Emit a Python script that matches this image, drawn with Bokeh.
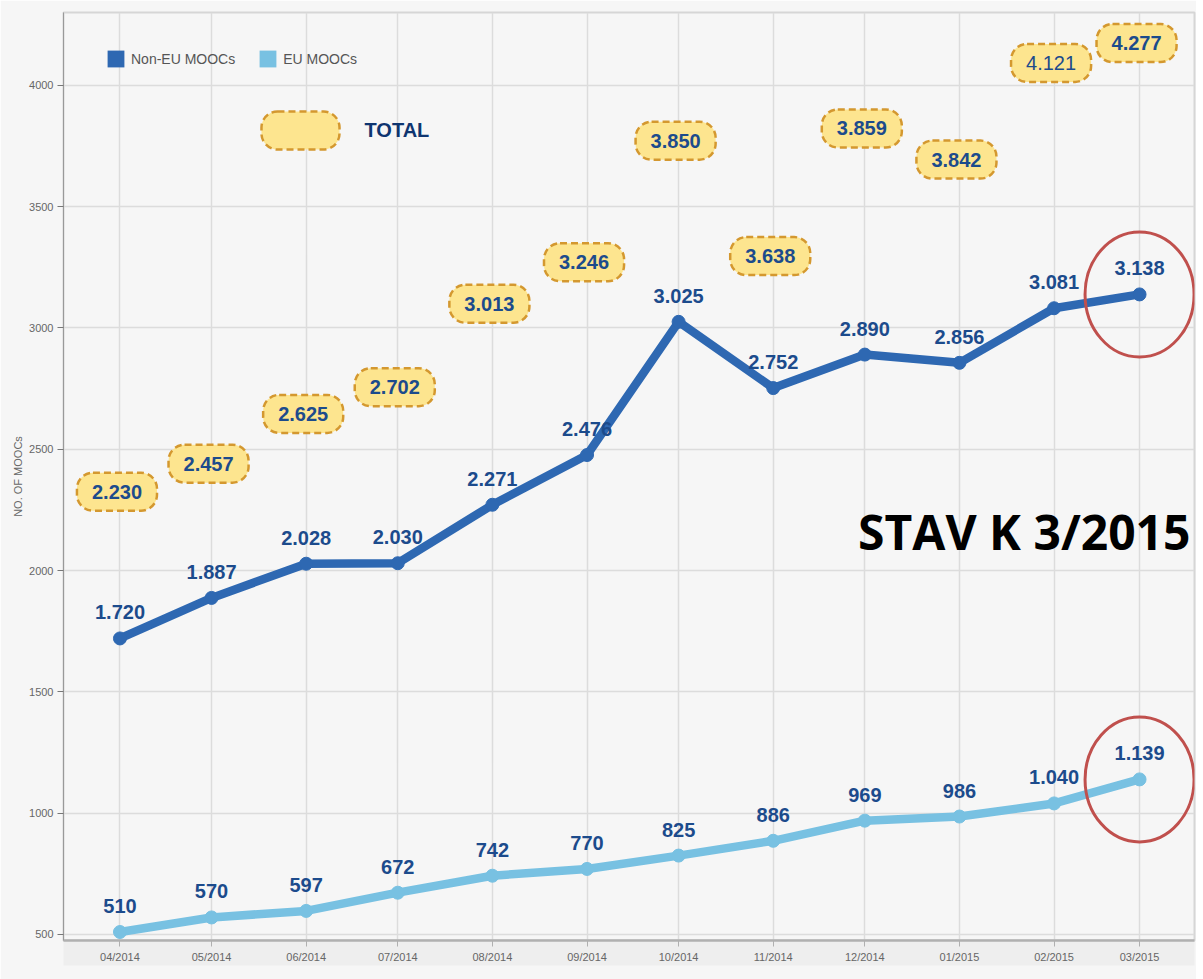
import pandas as pd
from bokeh.plotting import figure
from bokeh.models import (Range1d, FixedTicker, DatetimeTickFormatter, Legend, LegendItem,
                          Label, ColumnDataSource)
from bokeh.core.properties import value
from bokeh.embed import file_html
from bokeh.resources import INLINE

# ---------------- data ----------------
months = ["2014-04-01", "2014-05-01", "2014-06-01", "2014-07-01", "2014-08-01", "2014-09-01",
          "2014-10-01", "2014-11-01", "2014-12-01", "2015-01-01", "2015-02-01", "2015-03-01"]
non_eu = [1720, 1887, 2028, 2030, 2271, 2476, 3025, 2752, 2890, 2856, 3081, 3138]
eu = [510, 570, 597, 672, 742, 770, 825, 886, 969, 986, 1040, 1139]
totals = [2230, 2457, 2625, 2702, 3013, 3246, 3850, 3638, 3859, 3842, 4121, 4277]
y_ticks = [500, 1000, 1500, 2000, 2500, 3000, 3500, 4000]
series_names = ["Non-EU MOOCs", "EU MOOCs"]

# ---------------- styling ----------------
total_nudge_px = [-23, 4, -5, -13, -21, -6, 19, 83, 9, 36, 7, 25]   # hand placement of the TOTAL call-outs
total_weight = ["bold"] * 10 + ["normal", "bold"]

C_NONEU = "#2e68b2"
C_EU = "#78c1e2"
C_LABEL = "#1c4b8c"
C_BOX_FILL = "#fde58f"
C_BOX_LINE = "#d4982f"
C_RED = "#c0504d"
FONT = "Liberation Sans"

dates = pd.to_datetime(months)


def fmt(v):
    return f"{v:,}".replace(",", ".")


p = figure(width=1196, height=979, x_axis_type="datetime",
           x_range=Range1d(dates[0] - pd.Timedelta(days=18.5), dates[-1] + pd.Timedelta(days=18)),
           y_range=Range1d(475, 4300),
           output_backend="svg", toolbar_location=None,
           min_border_left=63, min_border_right=2, min_border_top=12, min_border_bottom=39,
           background_fill_color="#f6f6f6", border_fill_color="#f6f6f6")
p.outline_line_color = "#d6d6d6"
p.outline_line_width = 2

# grids
p.xgrid.grid_line_color = "#dcdcdc"
p.xgrid.grid_line_width = 1.5
p.ygrid.grid_line_color = "#dcdcdc"
p.ygrid.grid_line_width = 1.5

# axes
p.xaxis.ticker = FixedTicker(ticks=[d.timestamp() * 1000 for d in dates])
p.xaxis.formatter = DatetimeTickFormatter(days="%m/%Y", months="%m/%Y", years="%m/%Y",
                                          hours="%m/%Y", minutes="%m/%Y", seconds="%m/%Y",
                                          milliseconds="%m/%Y", microseconds="%m/%Y",
                                          hourmin="%m/%Y", minsec="%m/%Y")
p.yaxis.ticker = FixedTicker(ticks=y_ticks)
for ax in (p.xaxis[0], p.yaxis[0]):
    ax.major_label_text_font = FONT
    ax.major_label_text_color = "#666666"
    ax.minor_tick_line_color = None
    ax.major_tick_in = 0
    ax.major_tick_out = 6
    ax.major_tick_line_color = "#777777"
p.xaxis.major_label_text_font_size = "11px"
p.xaxis.axis_line_color = "#b0b0b0"
p.xaxis.axis_line_width = 2.5
p.xaxis.major_tick_line_color = "#b0b0b0"
p.xaxis.major_label_standoff = 4
p.xaxis.background_fill_color = "#eeeeee"
p.yaxis.major_label_text_font_size = "11px"
p.yaxis.axis_line_color = "#999999"
p.yaxis.major_label_standoff = 4
p.yaxis.axis_label = "NO. OF MOOCs"
p.yaxis.axis_label_text_font = FONT
p.yaxis.axis_label_text_font_size = "11px"
p.yaxis.axis_label_text_font_style = "normal"
p.yaxis.axis_label_text_color = "#666666"
p.yaxis.axis_label_standoff = 2

# sources
src_n = ColumnDataSource(dict(x=dates, y=non_eu, label=[fmt(v) for v in non_eu]))
src_e = ColumnDataSource(dict(x=dates, y=eu, label=[fmt(v) for v in eu]))
src_t = ColumnDataSource(dict(x=dates, y=totals, label=[fmt(v) for v in totals],
                              nudge=total_nudge_px, weight=total_weight))

# legend swatches (zero-size rects at the data points, only their legend glyph shows)
r1 = p.rect("x", "y", source=src_n, width=0, height=0, fill_color=C_NONEU, line_color=None)
r2 = p.rect("x", "y", source=src_e, width=0, height=0, fill_color=C_EU, line_color=None)

# lines
p.line("x", "y", source=src_n, line_color=C_NONEU, line_width=8.5, line_join="round", line_cap="round")
p.scatter("x", "y", source=src_n, marker="circle", size=13, color=C_NONEU)
p.line("x", "y", source=src_e, line_color=C_EU, line_width=8.5, line_join="round", line_cap="round")
p.scatter("x", "y", source=src_e, marker="circle", size=13, color=C_EU)

for s in (src_n, src_e):
    p.text("x", "y", text="label", source=s, y_offset=-26, text_align="center",
           text_baseline="middle", text_font=value(FONT), text_font_style="bold",
           text_font_size="20px", text_color=C_LABEL)

# TOTAL call-outs
p.text("x", "y", text="label", source=src_t, x_offset=-3, y_offset="nudge", text_align="center",
       text_baseline="middle", text_font=value(FONT), text_font_style="weight",
       text_font_size="20px", text_color=C_LABEL,
       background_fill_color=C_BOX_FILL, border_line_color=C_BOX_LINE,
       border_line_width=2.5, border_line_dash="7 4", border_radius=16, padding=(15, 15, 12, 12))

# highlight ellipses around latest values
p.ellipse(x=[dates[-1]], y=[non_eu[-1]], width=109, height=125, width_units="screen",
          height_units="screen", fill_alpha=0, line_color=C_RED, line_width=3)
p.ellipse(x=[dates[-1]], y=[eu[-1]], width=109, height=125, width_units="screen",
          height_units="screen", fill_alpha=0, line_color=C_RED, line_width=3)

legend = Legend(items=[LegendItem(label=series_names[0], renderers=[r1]),
                       LegendItem(label=series_names[1], renderers=[r2])],
                location=(42, 871), orientation="horizontal", padding=0, margin=0,
                glyph_width=21, glyph_height=21, label_standoff=5, spacing=22,
                label_text_font=FONT, label_text_font_size="14px", label_text_color="#555555",
                background_fill_alpha=0, border_line_alpha=0)
p.add_layout(legend)

# TOTAL key
p.add_layout(Label(x=300, y=130, x_units="canvas", y_units="canvas", text="2.230",
                   text_color=C_BOX_FILL,
                   text_align="center", text_baseline="middle", text_font=FONT,
                   text_font_size="20px", text_font_style="bold",
                   background_fill_color=C_BOX_FILL, border_line_color=C_BOX_LINE,
                   border_line_width=2.5, border_line_dash="7 4", border_radius=16,
                   padding=(14, 14, 12, 12)))
p.add_layout(Label(x=364, y=129, x_units="canvas", y_units="canvas", text="TOTAL",
                   text_align="left", text_baseline="middle", text_font=FONT,
                   text_font_size="20px", text_font_style="bold", text_color="#0e3570"))

# caption
p.add_layout(Label(x=1190, y=531, x_units="canvas", y_units="canvas", text="STAV K 3/2015",
                   text_align="right", text_baseline="alphabetic", text_font="Open Sans",
                   text_font_size="48px", text_font_style="bold", text_color="#000000"))

open("out.html", "w").write(file_html(p, INLINE))
